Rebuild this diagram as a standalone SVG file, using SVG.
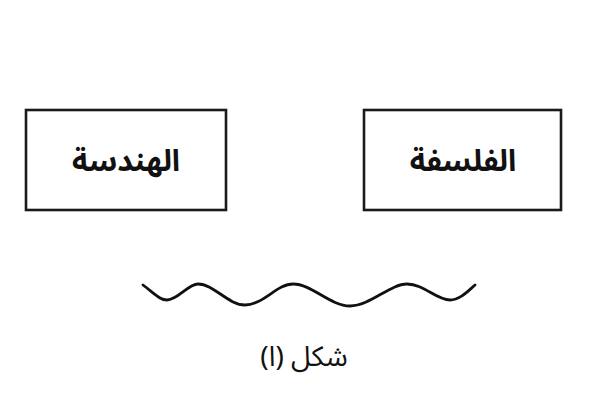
<svg xmlns="http://www.w3.org/2000/svg" width="600" height="400" viewBox="0 0 600 400">
<style>
.box{fill:#fff;stroke:#1a1a1a;stroke-width:2.6}
.lbl{font-family:"Noto Sans Arabic","Noto Sans","DejaVu Sans",sans-serif;font-weight:bold;font-size:30px;fill:#111;text-anchor:middle}
.cap{font-family:"Noto Sans Arabic","Noto Sans","DejaVu Sans",sans-serif;font-size:28px;fill:#111;text-anchor:middle}
.wave{fill:none;stroke:#111;stroke-width:2.8;stroke-linecap:round}
</style>
<rect width="600" height="400" fill="#fff"/>
<g id="node-geometry">
<rect class="box" x="26" y="110" width="200" height="100"/>
<text class="lbl" x="126" y="171" direction="rtl">الهندسة</text>
</g>
<g id="node-philosophy">
<rect class="box" x="364" y="110" width="197" height="100"/>
<text class="lbl" x="463" y="171" direction="rtl">الفلسفة</text>
</g>
<g id="connectors">
<path class="wave" d="M143,285 C155,294 160,300 167,300 C178,300 188,284 198,284 C214,284 228,305 245,305 C263,305 277,284 293,284 C312,284 330,306 350,306 C370,306 390,284 407,284 C424,284 436,300 450,300 C460,300 468,291 475,285"/>
</g>
<g id="caption">
<text class="cap" x="304" y="366" direction="rtl">شكل (ا)</text>
</g>
</svg>
